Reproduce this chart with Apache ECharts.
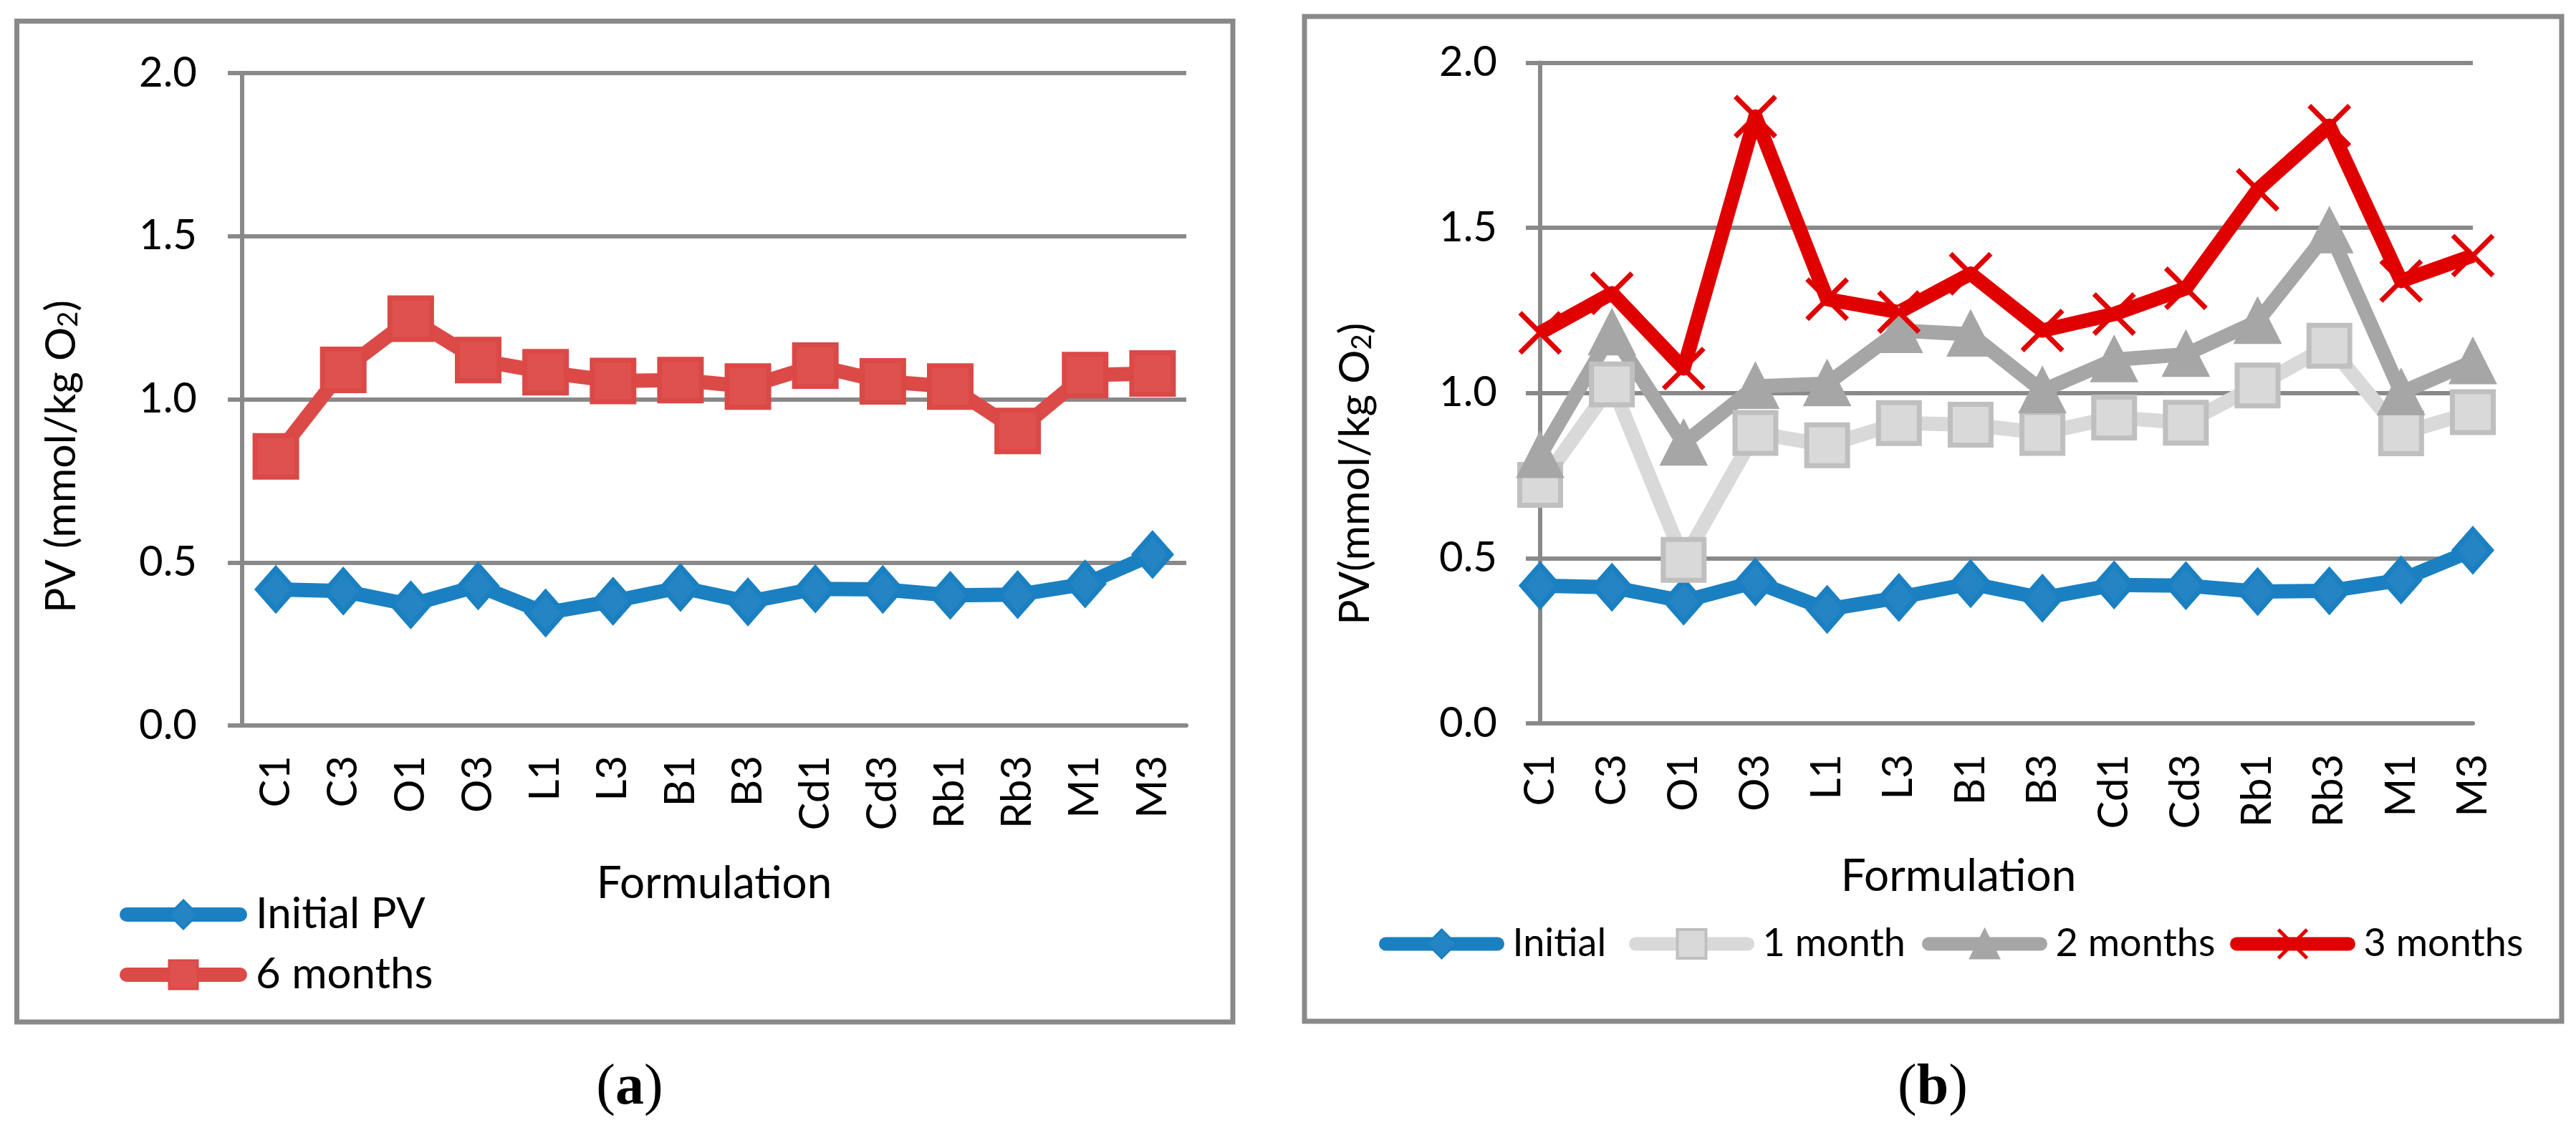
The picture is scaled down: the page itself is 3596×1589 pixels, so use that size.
<!DOCTYPE html>
<html>
<head>
<meta charset="utf-8">
<script src="https://cdn.jsdelivr.net/npm/echarts@6/dist/echarts.min.js"></script>
<style>
html,body{margin:0;padding:0;background:#fff;}
#chart{width:3596px;height:1589px;}
</style>
</head>
<body>
<div id="chart"></div>
<script>
// ---- data ----
const categories = ['C1','C3','O1','O3','L1','L3','B1','B3','Cd1','Cd3','Rb1','Rb3','M1','M3'];
const yTicks = [0, 0.5, 1.0, 1.5, 2.0];
// panel (a)
const initialPV = [0.417,0.412,0.370,0.428,0.345,0.381,0.423,0.379,0.419,0.417,0.399,0.401,0.434,0.524];
const sixMonths = [0.825,1.090,1.247,1.120,1.083,1.056,1.059,1.039,1.103,1.055,1.039,0.903,1.074,1.079];
// panel (b)
const initialB   = [0.417,0.412,0.370,0.428,0.345,0.381,0.423,0.379,0.419,0.417,0.399,0.401,0.434,0.524];
const oneMonth   = [0.722,1.026,0.495,0.879,0.842,0.909,0.904,0.879,0.926,0.910,1.023,1.143,0.878,0.942];
const twoMonths  = [0.811,1.182,0.848,1.020,1.028,1.189,1.178,1.007,1.101,1.117,1.217,1.491,1.001,1.095];
const threeMonths= [1.182,1.302,1.074,1.837,1.284,1.245,1.361,1.189,1.239,1.317,1.615,1.809,1.339,1.416];

const FONT = 'Lato';
const FS = 58;
const GRID_C = '#898989';

function yAxisCfg(gridIndex, nameText, gap, pad, margin) {
  return {
    type: 'value', gridIndex: gridIndex, min: yTicks[0], max: yTicks[yTicks.length-1], interval: 0.5,
    name: nameText, nameLocation: 'middle', nameRotate: 90, nameGap: gap,
    nameTextStyle: {
      padding: pad,
      rich: {
        n: {fontFamily: FONT, fontSize: 59, color: '#000', lineHeight: 59},
        s: {fontFamily: FONT, fontSize: 38, color: '#000', lineHeight: 20, verticalAlign: 'bottom'}
      }
    },
    axisLine: {show: true, lineStyle: {color: GRID_C, width: 6}},
    axisTick: {show: true, inside: false, length: 20, lineStyle: {color: GRID_C, width: 6}},
    splitLine: {show: true, lineStyle: {color: GRID_C, width: 6}},
    axisLabel: {fontFamily: FONT, fontSize: FS, color: '#000', margin: margin,
      formatter: function (v) { return v.toFixed(1); }}
  };
}
function xAxisCfg(gridIndex, boundaryGap, gap, pad, margin) {
  return {
    type: 'category', gridIndex: gridIndex, data: categories, boundaryGap: boundaryGap,
    name: 'Formulation', nameLocation: 'middle', nameGap: gap,
    nameTextStyle: {fontFamily: FONT, fontSize: 62, color: '#000', lineHeight: 62, padding: pad},
    axisLine: {show: true, onZero: false, lineStyle: {color: GRID_C, width: 6}},
    axisTick: {show: false},
    splitLine: {show: false},
    axisLabel: {interval: 0, rotate: 90, fontFamily: FONT, fontSize: FS, color: '#000', margin: margin}
  };
}

const xSym = 'path://M0,0L10,10M10,0L0,10';
const LEG_FS_B = 54;

function legendB(name, left, bw) {
  return {data: [name], left: left, top: 1291, padding: 0, itemWidth: 156, itemHeight: 50,
    lineStyle: {width: 19, cap: 'round'}, itemStyle: {borderWidth: bw},
    textStyle: {fontFamily: FONT, fontSize: LEG_FS_B, color: '#000', lineHeight: LEG_FS_B, padding: [0,0,0,16]}};
}

const option = {
  animation: false,
  backgroundColor: '#fff',
  grid: [
    {left: 338, top: 102, width: 1318, height: 911},
    {left: 2150, top: 87.5, width: 1302, height: 922.5}
  ],
  xAxis: [
    xAxisCfg(0, true, 190, [0,0,0,0], 42),
    xAxisCfg(1, false, 183, [0,134,0,0], 43)
  ],
  yAxis: [
    yAxisCfg(0, '{n|PV (mmol/kg O}{s|2}{n|)}', 223, [0,160,0,0], 63),
    yAxisCfg(1, '{n|PV(mmol/kg O}{s|2}{n|)}', 229, [0,226,0,0], 60)
  ],
  legend: [
    {data: ['Initial PV','6 months'], orient: 'vertical', left: 167, top: 1247, padding: 0,
     itemWidth: 158, itemHeight: 50, itemGap: 24,
     lineStyle: {width: 20, cap: 'round'}, itemStyle: {borderWidth: 3},
     textStyle: {fontFamily: FONT, fontSize: 60, color: '#000', lineHeight: 60, padding: [0,0,0,17]}},
    legendB('Initial', 1925, 3),
    legendB('1 month', 2274, 4),
    legendB('2 months', 2683, 3),
    legendB('3 months', 3113, 5)
  ],
  graphic: [
    {type: 'rect', silent: true, shape: {x: 23.5, y: 29.5, width: 1697.5, height: 1397.5},
     style: {fill: 'none', stroke: GRID_C, lineWidth: 7}},
    {type: 'rect', silent: true, shape: {x: 1821, y: 23, width: 1755, height: 1403},
     style: {fill: 'none', stroke: GRID_C, lineWidth: 7}},
    {type: 'text', x: 879, y: 1520, silent: true,
     style: {text: '({b|a})', align: 'center', verticalAlign: 'middle',
       font: '80px "Liberation Serif"', fill: '#000',
       rich: {b: {fontFamily: 'Liberation Serif', fontSize: 80, fontWeight: 'bold', fill: '#000'}}}},
    {type: 'text', x: 2698, y: 1520, silent: true,
     style: {text: '({b|b})', align: 'center', verticalAlign: 'middle',
       font: '80px "Liberation Serif"', fill: '#000',
       rich: {b: {fontFamily: 'Liberation Serif', fontSize: 80, fontWeight: 'bold', fill: '#000'}}}}
  ],
  series: [
    {name: 'Initial PV', type: 'line', xAxisIndex: 0, yAxisIndex: 0, data: initialPV,
     symbol: 'diamond', symbolSize: [51, 58], showAllSymbol: true,
     lineStyle: {color: '#1A80C1', width: 20, join: 'round'},
     itemStyle: {color: '#2584C3', borderColor: '#1A80C1', borderWidth: 7}},
    {name: '6 months', type: 'line', xAxisIndex: 0, yAxisIndex: 0, data: sixMonths,
     symbol: 'rect', symbolSize: 58, showAllSymbol: true,
     lineStyle: {color: '#DB4A47', width: 20, join: 'round'},
     itemStyle: {color: '#DE514F', borderColor: '#DA4946', borderWidth: 7}},
    {name: 'Initial', type: 'line', xAxisIndex: 1, yAxisIndex: 1, data: initialB,
     symbol: 'diamond', symbolSize: [51, 58], showAllSymbol: true,
     lineStyle: {color: '#1A80C1', width: 20, join: 'round'},
     itemStyle: {color: '#2584C3', borderColor: '#1A80C1', borderWidth: 7}},
    {name: '1 month', type: 'line', xAxisIndex: 1, yAxisIndex: 1, data: oneMonth,
     symbol: 'rect', symbolSize: 57, showAllSymbol: true,
     lineStyle: {color: '#D9D9D9', width: 20, join: 'round'},
     itemStyle: {color: '#D9D9D9', borderColor: '#BFBFBF', borderWidth: 7}},
    {name: '2 months', type: 'line', xAxisIndex: 1, yAxisIndex: 1, data: twoMonths,
     symbol: 'triangle', symbolSize: [58, 57], showAllSymbol: true,
     lineStyle: {color: '#A6A6A6', width: 20, join: 'round'},
     itemStyle: {color: '#A6A6A6', borderColor: '#A6A6A6', borderWidth: 6}},
    {name: '3 months', type: 'line', xAxisIndex: 1, yAxisIndex: 1, data: threeMonths,
     symbol: xSym, symbolSize: 56, showAllSymbol: true,
     lineStyle: {color: '#E00000', width: 20, join: 'round'},
     itemStyle: {color: '#E00000', borderColor: '#E00000', borderWidth: 7}}
  ]
};

const chart = echarts.init(document.getElementById('chart'), null, {renderer: 'canvas'});
chart.setOption(option);
</script>
</body>
</html>
